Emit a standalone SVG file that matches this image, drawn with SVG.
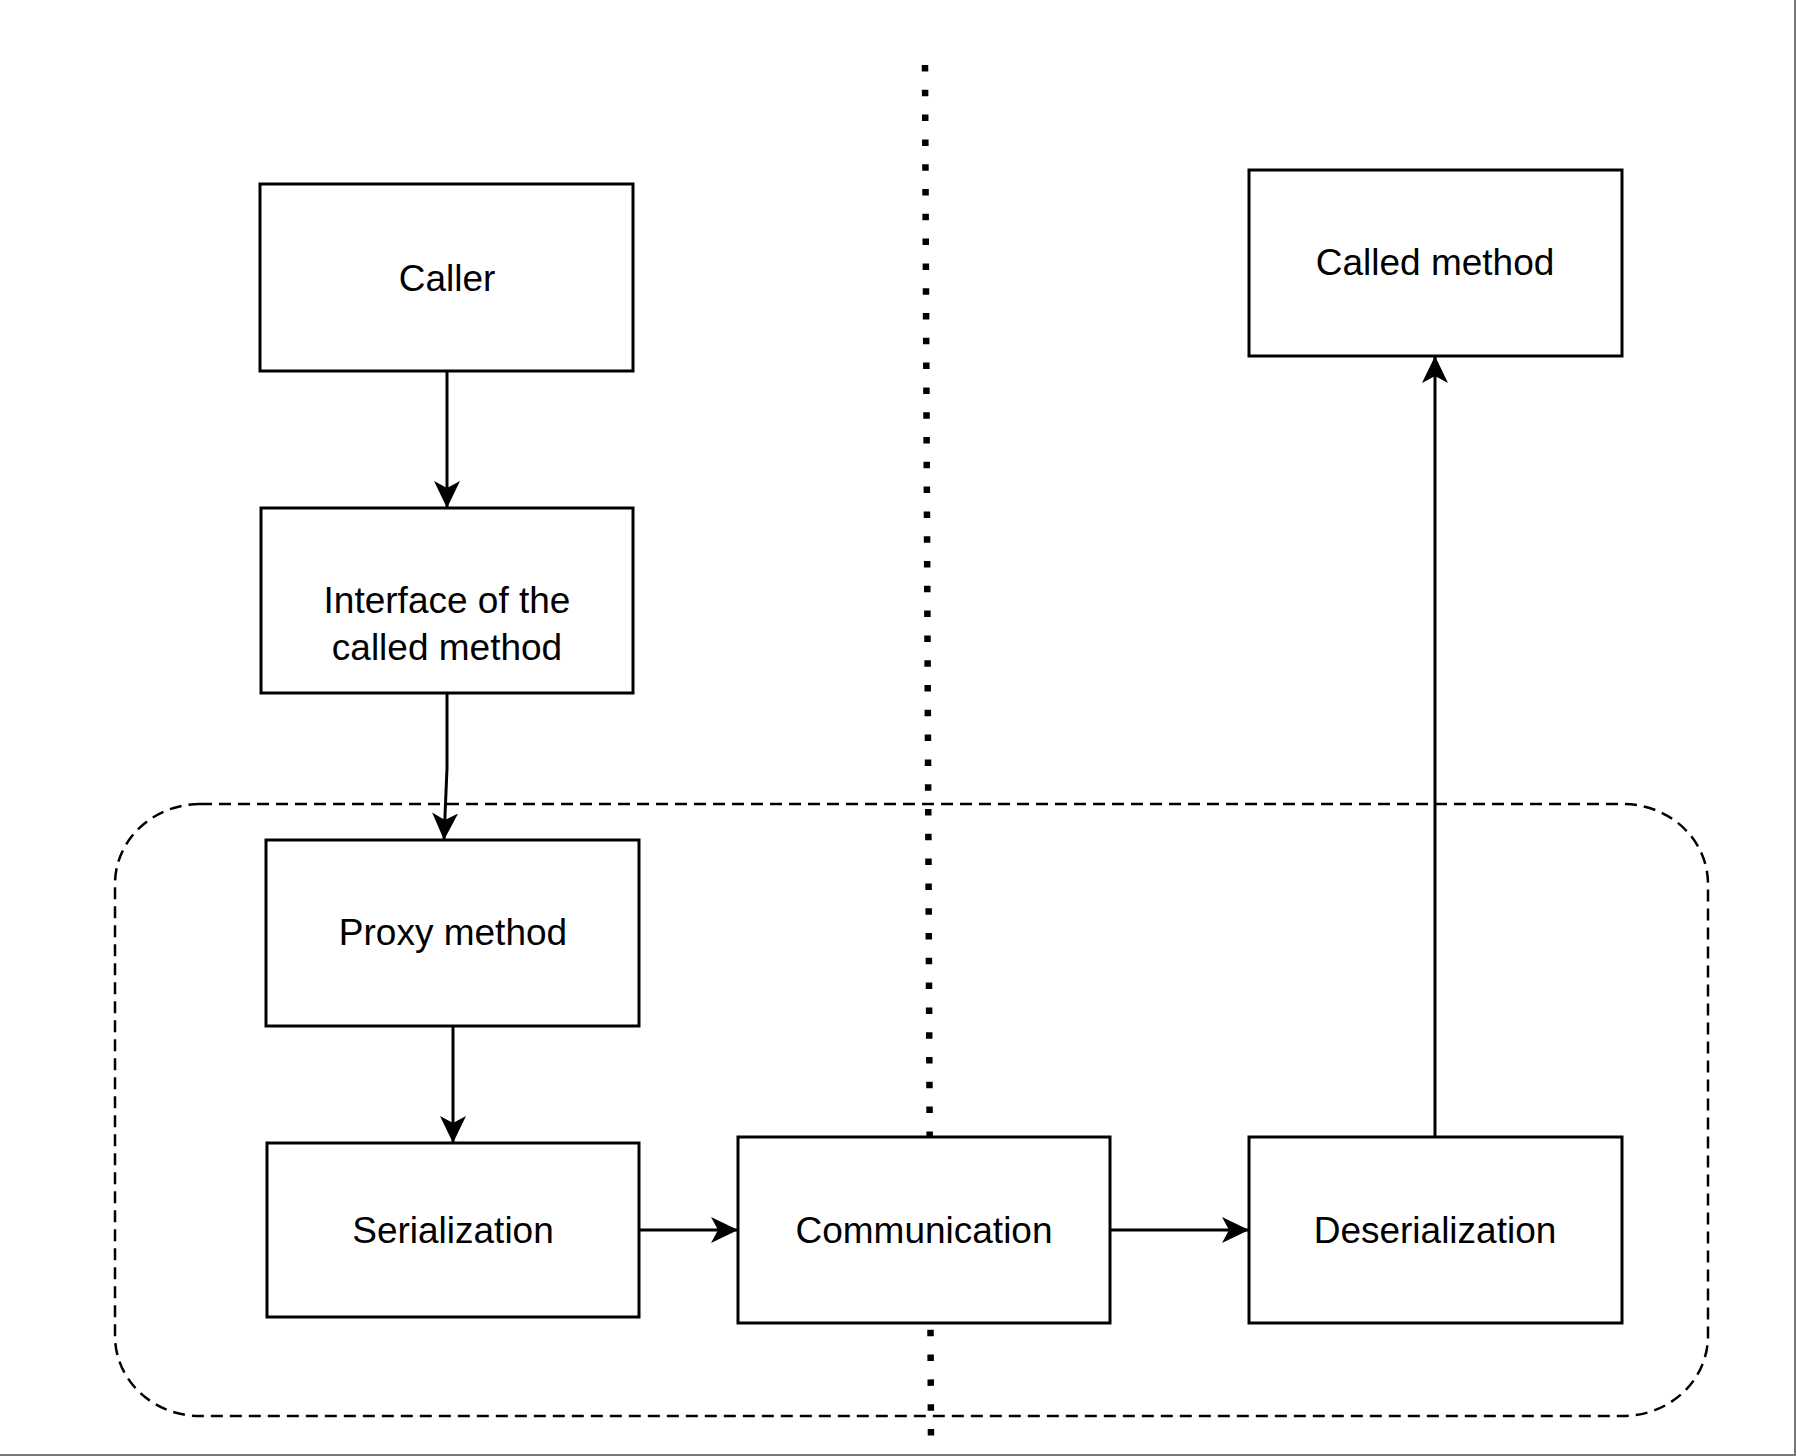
<svg xmlns="http://www.w3.org/2000/svg" width="1796" height="1456" viewBox="0 0 1796 1456">
  <style>
    .box { fill: #ffffff; stroke: #000000; stroke-width: 3; }
    .lbl { font-family: "Liberation Sans", Arial, Helvetica, sans-serif; font-size: 37px; fill: #000000; text-anchor: middle; }
    .edge { fill: none; stroke: #000000; stroke-width: 3; marker-end: url(#arrow); }
  </style>
  <defs>
    <marker id="arrow" markerUnits="userSpaceOnUse" viewBox="0 0 28 28" refX="27" refY="14" markerWidth="28" markerHeight="28" orient="auto">
      <path d="M0,1 L27,14 L0,27 L7,14 Z" fill="#000000"/>
    </marker>
  </defs>
  <rect x="0" y="0" width="1796" height="1456" fill="#ffffff"/>
  <line x1="1795" y1="0" x2="1795" y2="1456" stroke="#777777" stroke-width="2"/>
  <line x1="0" y1="1455" x2="1796" y2="1455" stroke="#777777" stroke-width="2"/>

  <g id="group-boundary">
    <rect x="115" y="804" width="1593" height="612" rx="85" ry="80" fill="none" stroke="#000000" stroke-width="2.5" stroke-dasharray="12 7"/>
  </g>
  <g id="divider">
    <line x1="925" y1="65" x2="931" y2="1440" stroke="#000000" stroke-width="6.5" stroke-dasharray="6.5 18.3"/>
  </g>

  <g id="connectors">
    <path class="edge" d="M447,371 L447,508"/>
    <path class="edge" d="M447,693 L447,768 L444,840"/>
    <path class="edge" d="M453,1026 L453,1143"/>
    <path class="edge" d="M639,1230 L738,1230"/>
    <path class="edge" d="M1110,1230 L1249,1230"/>
    <path class="edge" d="M1435,1137 L1435,356"/>
  </g>

  <g id="caller">
    <rect class="box" x="260" y="184" width="373" height="187"/>
    <text class="lbl" x="447" y="291">Caller</text>
  </g>
  <g id="interface">
    <rect class="box" x="261" y="508" width="372" height="185"/>
    <text class="lbl" x="447" y="613">Interface of the</text>
    <text class="lbl" x="447" y="660">called method</text>
  </g>
  <g id="proxy">
    <rect class="box" x="266" y="840" width="373" height="186"/>
    <text class="lbl" x="453" y="945">Proxy method</text>
  </g>
  <g id="serialization">
    <rect class="box" x="267" y="1143" width="372" height="174"/>
    <text class="lbl" x="453" y="1243">Serialization</text>
  </g>
  <g id="communication">
    <rect class="box" x="738" y="1137" width="372" height="186"/>
    <text class="lbl" x="924" y="1243">Communication</text>
  </g>
  <g id="deserialization">
    <rect class="box" x="1249" y="1137" width="373" height="186"/>
    <text class="lbl" x="1435" y="1243">Deserialization</text>
  </g>
  <g id="called-method">
    <rect class="box" x="1249" y="170" width="373" height="186"/>
    <text class="lbl" x="1435" y="275">Called method</text>
  </g>
</svg>
